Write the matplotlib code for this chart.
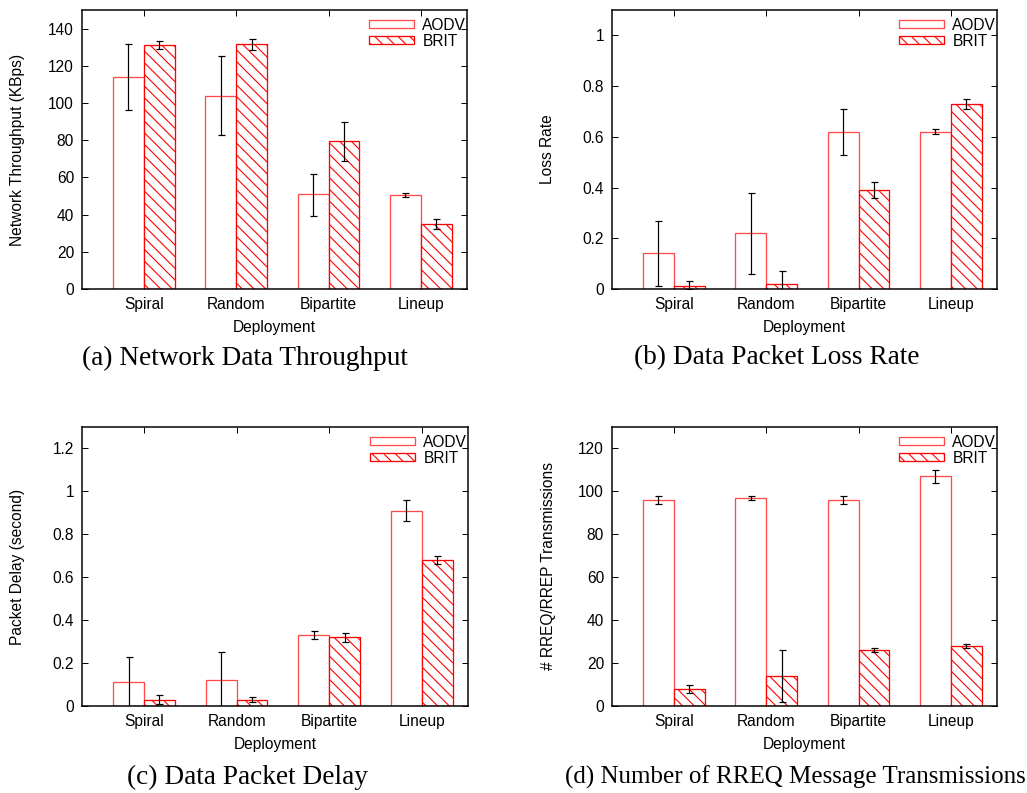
"""
Four-panel AODV vs BRIT comparison (gnuplot-style clustered bars)
"""

import matplotlib

matplotlib.use("Agg")
import matplotlib.pyplot as plt
import numpy as np

# hatch spacing in matplotlib scales with dpi, so render at 70 dpi
DPI = 70
W, H = 1027, 793


def px(v):
    # pixels -> points
    return v * 72 / DPI


plt.rcParams["hatch.linewidth"] = px(1.1)
plt.rcParams["hatch.color"] = "red"

deployments = ["Spiral", "Random", "Bipartite", "Lineup"]

# (a) throughput, KBps
thr_aodv = [114, 104, 51, 50.5]
thr_aodv_lo = [96, 83, 39, 49.5]
thr_aodv_hi = [131.5, 125.5, 62, 51.5]
thr_brit = [131, 131.5, 79.5, 35]
thr_brit_lo = [128.8, 128.5, 69, 32]
thr_brit_hi = [133.5, 134.5, 90, 37.5]

# (b) loss rate
loss_aodv = [0.14, 0.22, 0.62, 0.62]
loss_aodv_lo = [0.01, 0.06, 0.53, 0.61]
loss_aodv_hi = [0.27, 0.38, 0.71, 0.63]
loss_brit = [0.01, 0.02, 0.39, 0.73]
loss_brit_lo = [0.0, -0.03, 0.36, 0.71]
loss_brit_hi = [0.03, 0.07, 0.42, 0.75]

# (c) delay, second
dly_aodv = [0.11, 0.12, 0.33, 0.91]
dly_aodv_lo = [-0.01, -0.01, 0.31, 0.86]
dly_aodv_hi = [0.23, 0.25, 0.35, 0.96]
dly_brit = [0.03, 0.03, 0.32, 0.68]
dly_brit_lo = [0.01, 0.02, 0.30, 0.66]
dly_brit_hi = [0.05, 0.04, 0.34, 0.70]

# (d) RREQ/RREP transmissions
rreq_aodv = [96, 97, 96, 107]
rreq_aodv_lo = [94, 96, 94, 104]
rreq_aodv_hi = [98, 98, 98, 110]
rreq_brit = [8, 14, 26, 28]
rreq_brit_lo = [6, 2, 25, 27]
rreq_brit_hi = [10, 26, 27, 29]

panels = [
    dict(box=(82, 10, 467, 289), ylabel="Network Throughput (KBps)", ymax=150,
         yticks=np.arange(0, 141, 20), ticklabels=None,
         a=(thr_aodv, thr_aodv_lo, thr_aodv_hi), b=(thr_brit, thr_brit_lo, thr_brit_hi),
         caption="(a) Network Data Throughput", cap=(245, 358), capsize=27.2),
    dict(box=(612, 10, 997, 289), ylabel="Loss Rate", ymax=1.1,
         yticks=[0, 0.2, 0.4, 0.6, 0.8, 1], ticklabels=["0", "0.2", "0.4", "0.6", "0.8", "1"],
         a=(loss_aodv, loss_aodv_lo, loss_aodv_hi), b=(loss_brit, loss_brit_lo, loss_brit_hi),
         caption="(b) Data Packet Loss Rate", cap=(777, 358), capsize=27.2),
    dict(box=(82, 427, 468, 706), ylabel="Packet Delay (second)", ymax=1.3,
         yticks=[0, 0.2, 0.4, 0.6, 0.8, 1, 1.2],
         ticklabels=["0", "0.2", "0.4", "0.6", "0.8", "1", "1.2"],
         a=(dly_aodv, dly_aodv_lo, dly_aodv_hi), b=(dly_brit, dly_brit_lo, dly_brit_hi),
         caption="(c) Data Packet Delay", cap=(247, 777), capsize=27.2),
    dict(box=(612, 427, 997, 706), ylabel="# RREQ/RREP Transmissions", ymax=130,
         yticks=np.arange(0, 121, 20), ticklabels=None,
         a=(rreq_aodv, rreq_aodv_lo, rreq_aodv_hi), b=(rreq_brit, rreq_brit_lo, rreq_brit_hi),
         caption="(d) Number of RREQ Message Transmissions", cap=(795, 777), capsize=25),
]

sans = "Liberation Sans"
serif = "Liberation Serif"
fs = px(15.5)

fig = plt.figure(figsize=(W / DPI, H / DPI), dpi=DPI)
x = np.arange(len(deployments))
bw = 1 / 3

for p in panels:
    l, t, r, b = p["box"]
    ax = fig.add_axes([l / W, 1 - b / H, (r - l) / W, (b - t) / H])

    for vals, off, hatch, ec, lab in [
        (p["a"], -bw / 2, "", "#ff4a4a", "AODV"),
        (p["b"], bw / 2, "\\\\", "red", "BRIT"),
    ]:
        v, lo, hi = (np.array(s, dtype=float) for s in vals)
        ax.bar(x + off, v, width=bw, facecolor="white", edgecolor=ec,
               hatch=hatch, linewidth=px(1.3), label=lab, zorder=2)
        ax.errorbar(x + off, v, yerr=[v - lo, hi - v], fmt="none", ecolor="black",
                    elinewidth=px(1.2), capsize=px(3.5), capthick=px(1.2), zorder=3)

    ax.set_xlim(-0.67, 3.5)
    ax.set_ylim(0, p["ymax"])
    ax.set_xticks(x)
    ax.set_xticklabels(deployments, fontfamily=sans, fontsize=fs)
    ax.set_yticks(p["yticks"])
    if p["ticklabels"] is not None:
        ax.set_yticklabels(p["ticklabels"])
    for lbl in ax.get_yticklabels():
        lbl.set_fontfamily(sans)
        lbl.set_fontsize(fs)
    ax.tick_params(direction="in", top=True, right=True, length=px(6),
                   width=px(1), pad=px(8))

    for s in ax.spines.values():
        s.set_linewidth(px(1.5))

    # axis labels placed in pixels relative to the axes box
    ax.set_xlabel("Deployment", fontfamily=sans, fontsize=fs)
    ax.xaxis.set_label_coords(0.5, -38 / (b - t))
    ax.xaxis.label.set_va("center")
    ax.set_ylabel(p["ylabel"], fontfamily=sans, fontsize=fs)
    ax.yaxis.set_label_coords(-64 / (r - l), 0.5)
    ax.yaxis.label.set_va("center")

    ax.legend(loc="upper right", bbox_to_anchor=(1.018, 1.0), frameon=False,
              prop={"family": sans, "size": fs}, borderpad=0,
              handlelength=2.9, handleheight=0.45, handletextpad=0.55,
              labelspacing=0.05)

    cx, cy = p["cap"]
    fig.text(cx / W, 1 - cy / H, p["caption"], ha="center", va="center",
             fontfamily=serif, fontsize=px(p["capsize"]))

fig.savefig("out.png", dpi=DPI)
